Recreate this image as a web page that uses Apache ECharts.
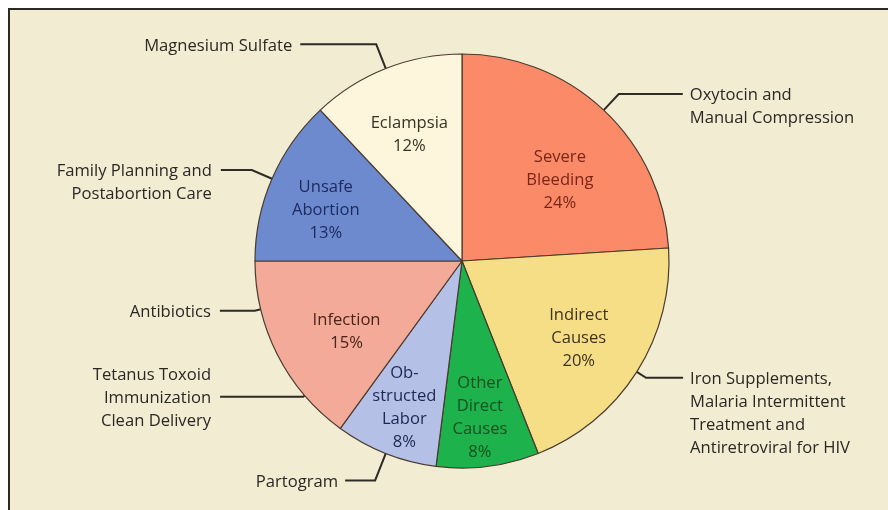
<!DOCTYPE html>
<html>
<head>
<meta charset="utf-8">
<script src="https://cdn.jsdelivr.net/npm/echarts@6/dist/echarts.min.js"></script>
<style>
  html, body { margin: 0; padding: 0; background: #ffffff; }
  #frame { position: absolute; left: 8px; top: 8px; width: 900px; height: 520px;
           background: #f2ecd3; border-left: 2px solid #2e2822; border-top: 2px solid #2e2822; }
  #chart { position: absolute; left: 0; top: 0; width: 888px; height: 510px; }
</style>
</head>
<body>
<div id="frame"></div>
<div id="chart"></div>
<script>
// ---- data ----
const causes = ['Severe Bleeding', 'Indirect Causes', 'Other Direct Causes', 'Obstructed Labor', 'Infection', 'Unsafe Abortion', 'Eclampsia'];
const shares = [24, 20, 8, 8, 15, 13, 12];
const sliceLabels = ['Severe\nBleeding', 'Indirect\nCauses', 'Other\nDirect\nCauses', 'Ob-\nstructed\nLabor', 'Infection', 'Unsafe\nAbortion', 'Eclampsia'];
const interventions = [
  ['Oxytocin and\nManual Compression'],
  ['Iron Supplements,\nMalaria Intermittent\nTreatment and\nAntiretroviral for HIV'],
  [],
  ['Partogram'],
  ['Tetanus Toxoid\nImmunization\nClean Delivery', 'Antibiotics'],
  ['Family Planning and\nPostabortion Care'],
  ['Magnesium Sulfate']
];

// ---- styles ----
const sliceColors = ['#fb8a68', '#f6de86', '#1db24b', '#b4c0e6', '#f4aa98', '#6e8acf', '#fdf5dc'];
const sliceTextColors = ['#7a2616', '#3d3322', '#17501f', '#1f2652', '#4a2418', '#1c2a5e', '#3a3224'];
// inner label nudges [dx, dy] per slice
const sliceNudge = [[0, 24], [-4, 1], [0, 15], [-5, 14], [12, 6], [-5, 6], [0, 7]];
// callout leader styles per intervention text
const LH = 23;
const calloutStyle = {
  'Oxytocin and\nManual Compression': { len: 22, len2: 64, dist: 7, firstLine: true },
  'Iron Supplements,\nMalaria Intermittent\nTreatment and\nAntiretroviral for HIV': { len: 11, len2: 37, dist: 7, firstLine: true },
  'Partogram': { len: 29, len2: 30, dist: 7, firstLine: true },
  'Tetanus Toxoid\nImmunization\nClean Delivery': { len: 2, len2: 83, dist: 9, firstLine: false },
  'Antibiotics': { len: 6, len2: 35, dist: 9, firstLine: true },
  'Family Planning and\nPostabortion Care': { len: 22, len2: 31, dist: 9, firstLine: true },
  'Magnesium Sulfate': { len: 26, len2: 76, dist: 8, firstLine: true }
};

const FONT = '"Open Sans", "Noto Sans", sans-serif';
const FS = 16.6;
const center = [462, 261];
const R = 207;

// main slices
const mainData = causes.map((c, i) => ({
  name: c, value: shares[i],
  itemStyle: { color: sliceColors[i] }
}));

// inner labels (transparent overlay)
const innerData = causes.map((c, i) => ({
  name: c, value: shares[i],
  label: { color: sliceTextColors[i] }
}));

// callouts (transparent overlay, each cause split among its interventions)
const calloutData = [];
const calloutShift = [];
causes.forEach((c, i) => {
  const list = interventions[i];
  if (!list.length) {
    calloutData.push({ name: c, value: shares[i], label: { show: false }, labelLine: { show: false } });
    calloutShift.push(0);
    return;
  }
  list.forEach(t => {
    const s = calloutStyle[t];
    const lines = t.split('\n').length;
    calloutData.push({
      name: t, value: shares[i] / list.length,
      label: { distanceToLabelLine: s.dist },
      labelLine: { length: s.len, length2: s.len2 }
    });
    calloutShift.push((s.firstLine ? (lines - 1) * LH / 2 : 0) + 1.5);
  });
});

const chart = echarts.init(document.getElementById('chart'), null, { renderer: 'canvas' });
chart.setOption({
  animation: false,
  backgroundColor: 'transparent',
  series: [
    {
      type: 'pie', center: center, radius: R, startAngle: 90, clockwise: true,
      silent: true, avoidLabelOverlap: false,
      data: mainData,
      itemStyle: { borderColor: '#4a3b2e', borderWidth: 1.2 },
      label: { show: false }, labelLine: { show: false }
    },
    {
      type: 'pie', center: center, radius: [0, 280], startAngle: 90, clockwise: true,
      silent: true, avoidLabelOverlap: false,
      data: innerData,
      itemStyle: { color: 'rgba(0,0,0,0)', borderWidth: 0 },
      label: {
        show: true, position: 'inside',
        formatter: p => sliceLabels[p.dataIndex] + '\n' + p.value + '%',
        fontFamily: FONT, fontSize: FS, lineHeight: LH, align: 'center'
      },
      labelLine: { show: false },
      labelLayout: p => ({ dx: sliceNudge[p.dataIndex][0], dy: sliceNudge[p.dataIndex][1], hideOverlap: false })
    },
    {
      type: 'pie', center: center, radius: R, startAngle: 90, clockwise: true,
      silent: true, avoidLabelOverlap: false,
      data: calloutData,
      itemStyle: { color: 'rgba(0,0,0,0)', borderWidth: 0 },
      label: {
        show: true, position: 'outside', formatter: '{b}',
        fontFamily: FONT, fontSize: FS, lineHeight: LH, color: '#2b2723'
      },
      labelLine: { show: true, smooth: false, lineStyle: { color: '#2f2a24', width: 2 } },
      labelLayout: p => ({ dy: calloutShift[p.dataIndex], hideOverlap: false })
    }
  ]
});
</script>
</body>
</html>
